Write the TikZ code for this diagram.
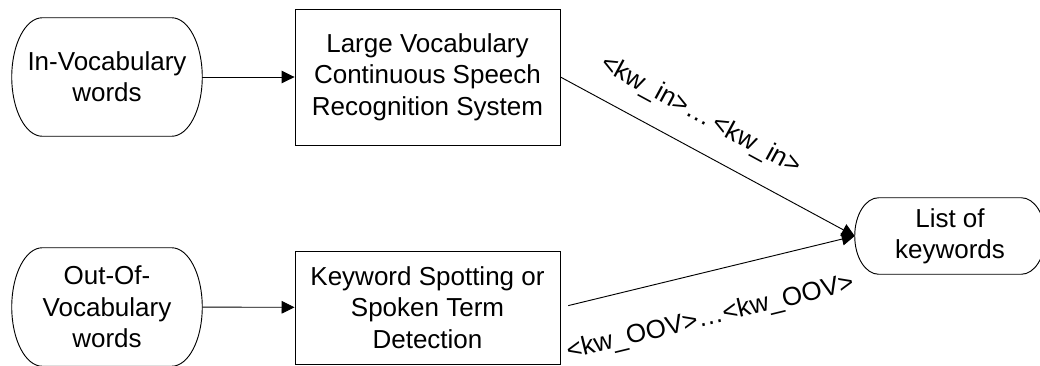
\documentclass[tikz,border=0pt]{standalone}
\usepackage{fontspec}
\setmainfont{Liberation Sans}
\usetikzlibrary{arrows.meta,calc}

% Outline of a terminator node: straight top and bottom, half-elliptic ends.
% #1 = node name, #2 = horizontal radius of the end caps (with unit)
\newcommand\termedge[2]{%
  \draw[line width=0.7pt]
    let \p1=(#1.north west), \p2=(#1.south east), \n1={(\y1-\y2)/2} in
    (\x1+#2,\y1) -- (\x2-#2,\y1)
    arc[start angle=90,end angle=-90,x radius=#2,y radius=\n1]
    -- (\x1+#2,\y2)
    arc[start angle=270,end angle=90,x radius=#2,y radius=\n1]
    -- cycle;}

\begin{document}
\begin{tikzpicture}[x=0.75pt,y=-0.75pt,
  every node/.style={font=\fontsize{19.5pt}{23.5pt}\selectfont,
                     align=center, inner sep=0pt},
  procbox/.style={draw, line width=0.7pt, minimum width=198.75pt},
  termnode/.style={minimum width=142.5pt, minimum height=88.5pt},
  conn/.style={line width=0.7pt, -{Triangle[length=9.75pt,width=9.5pt]}},
  lbl/.style={sloped, inner sep=0pt}]

\useasboundingbox (0,0) rectangle (1040,365);

% inputs
\node[termnode] (inv) at (107,77)  {In-Vocabulary\\words};
\node[termnode] (oov) at (107,307) {Out-Of-\\Vocabulary\\words};
\termedge{inv}{23pt}
\termedge{oov}{23pt}

% processing systems
\node[procbox, minimum height=102pt]   (lvcsr) at (427.5,77)
  {Large Vocabulary\\Continuous Speech\\Recognition System};
\node[procbox, minimum height=84.75pt] (kws)   at (427.5,307.5)
  {Keyword Spotting or\\Spoken Term\\Detection};

% output
\node[minimum width=142.5pt, minimum height=57pt] (list) at (950,236)
  {List of\\keywords};
\termedge{list}{18pt}

% connectors
\draw[conn] (inv) -- (lvcsr);
\draw[conn] (oov) -- (kws);
\draw[conn] (lvcsr.east) -- (list.west)
  node[lbl, pos=0.424, above=15pt] {<kw\_in>…\hspace{0.15em}<kw\_in>};
\draw[conn, shorten <=6pt] (kws.east) -- (list.west)
  node[lbl, pos=0.473, below=24.8pt] {<kw\_OOV>…<kw\_OOV>};
\end{tikzpicture}
\end{document}
